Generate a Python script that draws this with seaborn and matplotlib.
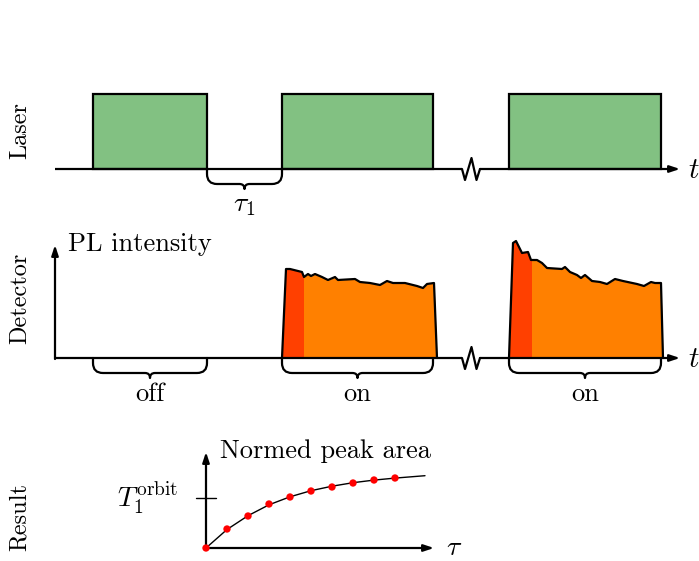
import numpy as np
import pandas as pd
import matplotlib
matplotlib.use("Agg")
import matplotlib.pyplot as plt
import seaborn as sns
from matplotlib.path import Path
from matplotlib.patches import PathPatch, Rectangle

sns.set_style("white")
plt.rcParams["font.family"] = ["cmr10", "DejaVu Serif"]
plt.rcParams["mathtext.fontset"] = "cm"
plt.rcParams["axes.unicode_minus"] = False
plt.rcParams["text.color"] = "black"

# ---------------- data ----------------
row_labels = ["Laser", "Detector", "Result"]
pulse_start = [93, 282, 509]
pulse_end = [207, 433, 661]
pulse_height = 75
gate_labels = ["off", "on", "on"]
gate_start = [93, 282, 509]
gate_end = [207, 433, 661]

# detector PL traces (time, intensity above baseline)
pl1_t = [282, 286, 290, 302, 304, 308, 311, 315, 322, 328, 335, 338, 355, 360,
         370, 380, 387, 393, 405, 417, 423, 427, 434, 437]
pl1_y = [0, 89, 89, 86, 81, 84, 82, 84, 81, 78, 81, 78, 79, 76,
         75, 73, 77, 75, 75, 72, 70, 74, 75, 0]
pl2_t = [509, 513, 516, 522, 528, 531, 537, 542, 547, 562, 565, 570, 577, 581,
         585, 592, 600, 607, 615, 623, 637, 644, 651, 655, 661, 663]
pl2_y = [0, 115, 117, 105, 106, 98, 98, 95, 90, 89, 91, 86, 83, 80,
         83, 77, 76, 74, 79, 77, 74, 72, 76, 75, 75, 0]
red_window = [(282, 303), (509, 531)]

# result: normed peak area vs tau
tau_pts = [0, 21, 42, 63, 84, 105, 126, 147, 168, 189]
area_pts = [0, 19, 32, 44, 51, 57, 61, 65, 68, 70]
fit_tau = [0, 21, 42, 63, 84, 105, 126, 147, 168, 189, 219]
fit_area = [0, 18.5, 32.3, 43.2, 51.2, 57.3, 61.8, 65.3, 67.9, 69.9, 72.3]
t1_level = 50

# ---------------- layout (pixel coords) ----------------
W, H = 699, 561
fig = plt.figure(figsize=(W / 100, H / 100), dpi=100)
ax = fig.add_axes([0, 0, 1, 1])
ax.set_xlim(0, W)
ax.set_ylim(H, 0)
ax.axis("off")

GREEN = "#82c182"
ORANGE = "#ff8000"
RED = "#ff4000"
LW = 1.6
FS = 19

y_laser = 169
y_det = 358
x0 = 55
brk = (462, 480)
ARW = "-|>,head_length=0.6,head_width=0.2"


def brace(x_a, x_b, y):
    xm = (x_a + x_b) / 2
    verts = [(x_a, y), (x_a, y + 5), (x_a, y + 15), (x_a + 10, y + 15),
             (xm - 5, y + 15), (xm, y + 15), (xm, y + 20),
             (xm, y + 15), (xm + 5, y + 15),
             (x_b - 10, y + 15), (x_b, y + 15), (x_b, y + 5), (x_b, y)]
    codes = [Path.MOVETO, Path.LINETO, Path.CURVE3, Path.CURVE3,
             Path.LINETO, Path.CURVE3, Path.CURVE3,
             Path.CURVE3, Path.CURVE3,
             Path.LINETO, Path.CURVE3, Path.CURVE3, Path.LINETO]
    ax.add_patch(PathPatch(Path(verts, codes), fill=False, lw=LW, ec="black",
                           capstyle="round", joinstyle="round", zorder=4))


def time_axis(y):
    ax.plot([x0, brk[0]], [y, y], color="black", lw=LW, zorder=5,
            solid_capstyle="butt")
    zx = [brk[0], 465, 471.5, 476.5, brk[1]]
    zy = [y, y + 11, y - 11, y + 11, y]
    ax.plot(zx, zy, color="black", lw=LW, zorder=5)
    ax.annotate("", xy=(680, y), xytext=(brk[1], y),
                arrowprops=dict(arrowstyle=ARW, lw=LW, color="black",
                                shrinkA=0, shrinkB=0), zorder=5)
    ax.text(694, y + 2, r"$t$", fontsize=FS + 2, ha="center", va="center")


# ---- Laser row ----
ax.bar([(a + b) / 2 for a, b in zip(pulse_start, pulse_end)],
       [-pulse_height] * len(pulse_start),
       width=[b - a for a, b in zip(pulse_start, pulse_end)],
       bottom=y_laser, color=GREEN, edgecolor="black", linewidth=LW, zorder=3)
time_axis(y_laser)
brace(pulse_end[0], pulse_start[1], y_laser)
ax.text((pulse_end[0] + pulse_start[1]) / 2, 205, r"$\tau_1$", fontsize=FS + 1,
        ha="center", va="center")

# ---- Detector row ----
for t, yv, (ra, rb) in zip([pl1_t, pl2_t], [pl1_y, pl2_y], red_window):
    df = pd.DataFrame({"t": t, "y": [y_det - v for v in yv]})
    ax.fill_between(df["t"], y_det, df["y"], color=ORANGE, lw=0, zorder=2)
    red = ax.fill_between(df["t"], y_det, df["y"], color=RED, lw=0, zorder=2.5)
    red.set_clip_path(Rectangle((ra, 0), rb - ra, H, transform=ax.transData))
    sns.lineplot(data=df, x="t", y="y", sort=False, color="black", lw=LW,
                 ax=ax, zorder=3, estimator=None)
time_axis(y_det)
ax.annotate("", xy=(x0, 245), xytext=(x0, y_det + 1),
            arrowprops=dict(arrowstyle=ARW, lw=LW, color="black",
                            shrinkA=0, shrinkB=0), zorder=5)
ax.text(68, 244, "PL intensity", fontsize=FS, ha="left", va="center")
for a, b, lab in zip(gate_start, gate_end, gate_labels):
    brace(a, b, y_det)
    ax.text((a + b) / 2, 394, lab, fontsize=FS, ha="center", va="center")

# ---- Result row ----
rx0, ry0 = 206, 548
ax.annotate("", xy=(rx0, 452), xytext=(rx0, ry0 + 1),
            arrowprops=dict(arrowstyle=ARW, lw=LW, color="black",
                            shrinkA=0, shrinkB=0), zorder=5)
ax.annotate("", xy=(434, ry0), xytext=(rx0 - 1, ry0),
            arrowprops=dict(arrowstyle=ARW, lw=LW, color="black",
                            shrinkA=0, shrinkB=0), zorder=5)
fit_df = pd.DataFrame({"x": [rx0 + v for v in fit_tau],
                       "y": [ry0 - v for v in fit_area]})
sns.lineplot(data=fit_df, x="x", y="y", color="black", lw=1.0, ax=ax,
             zorder=6, estimator=None)
pts_df = pd.DataFrame({"x": [rx0 + v for v in tau_pts],
                       "y": [ry0 - v for v in area_pts]})
sns.scatterplot(data=pts_df, x="x", y="y", color="red", s=28, edgecolor="none",
                ax=ax, zorder=7)
ax.plot([196, 216], [ry0 - t1_level, ry0 - t1_level], color="black", lw=1.0)
ax.text(148, 498, r"$T_1^{\mathrm{orbit}}$", fontsize=FS + 1, ha="center",
        va="center")
ax.text(220, 451, "Normed peak area", fontsize=FS, ha="left", va="center")
ax.text(454, 548, r"$\tau$", fontsize=FS + 1, ha="center", va="center")

# row labels
for lab, yc in zip(row_labels, [131, 298, 517]):
    ax.text(20, yc, lab, fontsize=FS - 1.5, rotation=90, ha="center",
            va="center")

ax.set_xlabel("")
ax.set_ylabel("")
fig.savefig("out.png", dpi=100)
